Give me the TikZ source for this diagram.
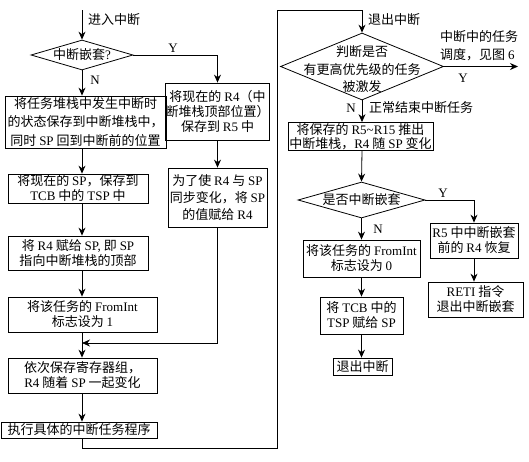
\documentclass[tikz,border=0pt]{standalone}
\usepackage{fontspec}
\setmainfont{Noto Sans CJK SC}
\newfontfamily\enfont{Liberation Serif}
\newcommand\E[1]{{\enfont #1}}
\usetikzlibrary{shapes.geometric,arrows.meta}
\begin{document}
\begin{tikzpicture}[x=1pt,y=-1pt,
  box/.style={draw, line width=0.8pt, inner sep=0pt, align=center, font=\fontsize{13}{15}\selectfont},
  dia/.style={draw, diamond, inner sep=0pt, line width=0.8pt},
  arr/.style={-{Stealth[length=8pt,width=7pt]}, line width=0.8pt},
  ln/.style={line width=0.8pt},
  lab/.style={inner sep=0pt, align=center, font=\fontsize{13}{15}\selectfont}]
\useasboundingbox (0,0) rectangle (529,461);

% ---------- left part ----------
\coordinate (s1) at (82,10);
\node[lab, anchor=west] (t1) at (88,20) {进入中断};
\node[dia, minimum width=102, minimum height=30] (d1) at (82,55) {};
\node[lab] (d1t) at (d1.center) {中断嵌套\E{?}};
\node[lab] (y1) at (173,48) {\E{Y}};
\node[lab] (n1) at (95,80) {\E{N}};

\node[box, minimum width=161, minimum height=52, font=\fontsize{13}{18.5}\selectfont] (A) at (85.5,122)
  {将任务堆栈中发生中断时\\的状态保存到中断堆栈中，\\同时 \E{SP} 回到中断前的位置};
\node[box, minimum width=140, minimum height=29] (B) at (78,188.5)
  {将现在的 \E{SP}，保存到\\\E{TCB} 中的 \E{TSP} 中};
\node[box, minimum width=140, minimum height=34] (C) at (78,253)
  {将 \E{R4} 赋给 \E{SP,} 即 \E{SP}\\指向中断堆栈的顶部};
\node[box, minimum width=149, minimum height=35] (D) at (82.5,314.5)
  {将该任务的 \E{FromInt}\\标志设为 \E{1}};
\coordinate (m) at (82,343);
\node[box, minimum width=149, minimum height=35] (E) at (82.5,375.5)
  {依次保存寄存器组，\\\E{R4} 随着 \E{SP} 一起变化};
\node[box, minimum width=156, minimum height=16] (F) at (79,430)
  {执行具体的中断任务程序};

\node[box, minimum width=99, minimum height=57] (R) at (217.5,111.5)
  {将现在的 \E{R4}（中\\断堆栈顶部位置）\\保存到 \E{R5} 中};
\node[box, minimum width=99, minimum height=59, font=\fontsize{13}{17}\selectfont] (R2) at (217.5,197.5)
  {为了使 \E{R4} 与 \E{SP}\\同步变化，将 \E{SP}\\的值赋给 \E{R4}};

\draw[arr] (s1) -- (d1.north);
\draw[arr] (d1.east) -| (R.north);
\draw[arr] (d1.south) -- (d1.south |- A.north);
\draw[arr] (s1 |- A.south) -- (s1 |- B.north);
\draw[arr] (s1 |- B.south) -- (s1 |- C.north);
\draw[arr] (s1 |- C.south) -- (s1 |- D.north);
\draw[arr] (s1 |- D.south) -- (s1 |- E.north);
\draw[arr] (R.south) -- (R2.north);
\draw[arr] (R2.south) |- (m);
\draw[arr] (s1 |- E.south) -- (s1 |- F.north);

% ---------- big connector ----------
\coordinate (c1) at (277,448);
\coordinate (c2) at (277,10);
\node[dia, minimum width=163, minimum height=67] (d2) at (362,66.5) {};
\draw[arr] (s1 |- F.south) |- (c1) -- (c2) -| (d2.north);

% ---------- right part ----------
\node[lab, anchor=west] (t2) at (368,20) {退出中断};
\node[lab, font=\fontsize{13}{17.5}\selectfont] (d2t) at (362,69.5) {判断是否\\有更高优先级的任务\\被激发};
\coordinate (yo) at (518,66.5);
\node[lab, anchor=west, align=left, font=\fontsize{13}{18}\selectfont] (t3) at (440,46) {中断中的任务\\调度，见图 \E{6}};
\node[lab] (y2) at (463,78) {\E{Y}};
\node[lab] (n2) at (351,108) {\E{N}};
\node[lab, anchor=west] (t4) at (369,108) {正常结束中断任务};

\node[box, minimum width=145, minimum height=28, font=\fontsize{13}{14}\selectfont] (G) at (360.5,136.5)
  {将保存的 \E{R5\textasciitilde R15} 推出\\中断堆栈，\E{R4} 随 \E{SP} 变化};
\node[dia, minimum width=127, minimum height=36] (d3) at (361.5,200) {};
\node[lab] (d3t) at (d3.center) {是否中断嵌套};
\node[lab] (y3) at (443,193) {\E{Y}};
\node[lab] (n3) at (378,229) {\E{N}};

\node[box, minimum width=117, minimum height=37] (H) at (361.5,258.5)
  {将该任务的 \E{FromInt}\\标志设为 \E{0}};
\node[box, minimum width=88, minimum height=35] (I) at (474,240.5)
  {\E{R5} 中中断嵌套\\前的 \E{R4} 恢复};
\node[box, minimum width=95, minimum height=35] (J) at (475.5,299.5)
  {\E{RETI} 指令\\退出中断嵌套};
\node[box, minimum width=83, minimum height=37] (K) at (361.5,315.5)
  {将 \E{TCB} 中的\\\E{TSP} 赋给 \E{SP}};
\node[box, minimum width=59, minimum height=17] (L) at (362.5,366.5)
  {退出中断};

\draw[arr] (d2.east) -- (yo);
\draw[arr] (d2.south) -- (d2.south |- G.north);
\draw[arr] (d2.south |- G.south) -- (d3.north);
\draw[arr] (d3.east) -| (I.north);
\draw[arr] (d3.south) -- (d3.south |- H.north);
\draw[arr] (I.south) -- (I.south |- J.north);
\draw[arr] (d3.south |- H.south) -- (d3.south |- K.north);
\draw[arr] (d3.south |- K.south) -- (d3.south |- L.north);
\end{tikzpicture}
\end{document}
